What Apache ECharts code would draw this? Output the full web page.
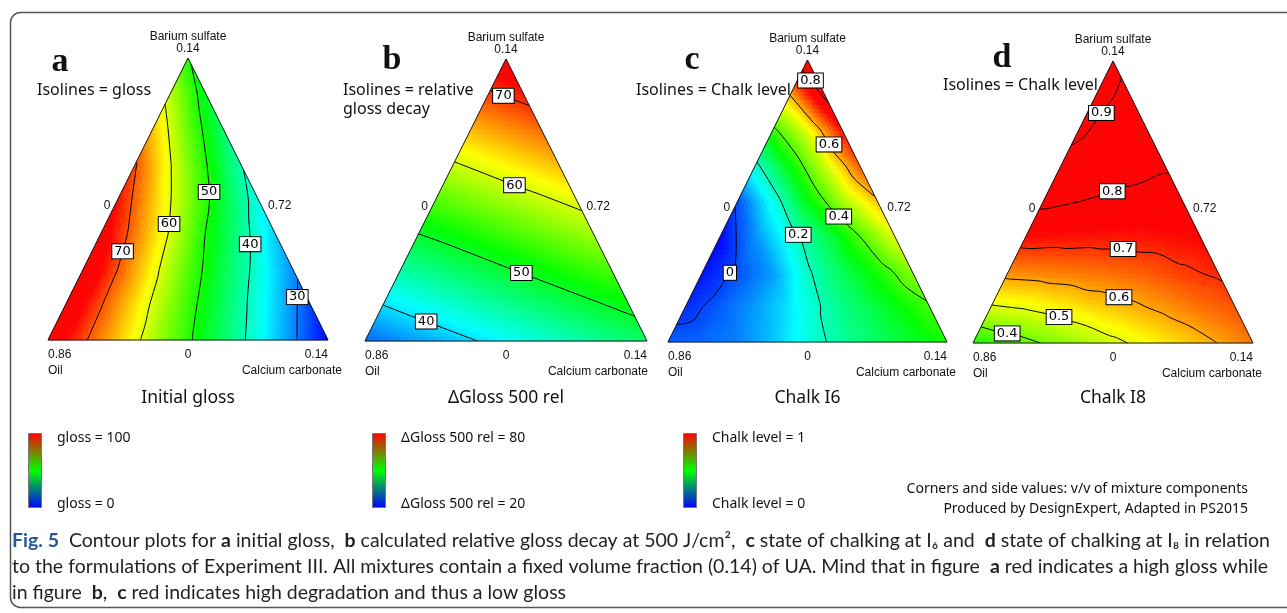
<!DOCTYPE html>
<html><head><meta charset="utf-8">
<style>html,body{margin:0;padding:0;background:#fff;}#chart{width:1287px;height:613px;}</style>
<script src="https://cdn.jsdelivr.net/npm/echarts@6/dist/echarts.min.js"></script>
</head><body><div id="chart"></div>
<script>
// ================= DATA =================
// Values on a triangular lattice: row 0 = base (Oil corner -> Calcium carbonate corner),
// last row = apex (Barium sulfate). 8 divisions per side.
const panelTitles = ['Initial gloss', 'ΔGloss 500 rel', 'Chalk I6', 'Chalk I8'];
const panelLetters = ['a', 'b', 'c', 'd'];
const isolineTexts = [['Isolines = gloss'], ['Isolines = relative', 'gloss decay'], ['Isolines = Chalk level'], ['Isolines = Chalk level']];
const apexLabels = ['Barium sulfate', '0.14'];
const leftCornerLabels = ['0.86', 'Oil'];
const rightCornerLabels = ['0.14', 'Calcium carbonate'];
const sideLabels = ['0', '0.72', '0'];   // left side, right side, base

const glossValues = [
  [77.0, 70.8, 64.3, 57.6, 50.8, 44.2, 37.6, 30.8, 24.0],
  [77.7, 70.4, 63.0, 55.6, 48.2, 41.3, 34.4, 27.3],
  [78.4, 69.9, 61.5, 53.1, 45.5, 38.3, 31.0],
  [76.5, 68.0, 59.4, 49.9, 42.2, 34.0],
  [73.5, 64.7, 55.6, 46.5, 37.5],
  [70.3, 60.2, 50.4, 40.5],
  [64.5, 54.0, 44.0],
  [58.0, 47.5],
  [50.5]
];
const glossDecayValues = [
  [35.0, 36.6, 38.1, 39.7, 41.3, 42.9, 44.5, 46.1, 47.6],
  [39.9, 41.5, 43.1, 44.7, 46.2, 47.8, 49.4, 51.0],
  [44.8, 46.4, 48.0, 49.6, 51.2, 52.8, 54.3],
  [49.8, 51.3, 52.9, 54.5, 56.1, 57.7],
  [54.7, 56.3, 57.9, 59.4, 61.0],
  [59.6, 61.2, 62.8, 64.4],
  [64.6, 66.1, 67.7],
  [69.5, 71.1],
  [74.4]
];
const chalkI6Values = [
  [0.02, 0.03, 0.05, 0.10, 0.17, 0.225, 0.27, 0.315, 0.36],
  [-0.02, 0.02, 0.07, 0.13, 0.21, 0.27, 0.33, 0.39],
  [-0.04, 0.01, 0.07, 0.19, 0.28, 0.36, 0.45],
  [-0.05, 0.06, 0.17, 0.28, 0.40, 0.52],
  [0.01, 0.16, 0.33, 0.47, 0.59],
  [0.18, 0.34, 0.50, 0.67],
  [0.38, 0.52, 0.73],
  [0.60, 0.82],
  [0.88]
];
const chalkI8Values = [
  [0.324, 0.364, 0.403, 0.443, 0.484, 0.523, 0.562, 0.601, 0.64],
  [0.49, 0.505, 0.53, 0.56, 0.585, 0.615, 0.645, 0.67],
  [0.622, 0.63, 0.64, 0.65, 0.665, 0.69, 0.71],
  [0.733, 0.728, 0.725, 0.725, 0.73, 0.74],
  [0.817, 0.80, 0.785, 0.775, 0.772],
  [0.877, 0.843, 0.823, 0.806],
  [0.915, 0.865, 0.842],
  [0.925, 0.878],
  [0.92]
];
const glossLevels = [30, 40, 50, 60, 70];
const glossDecayLevels = [40, 50, 60, 70];
const chalkI6Levels = [0, 0.2, 0.4, 0.6, 0.8];
const chalkI8Levels = [0.4, 0.5, 0.6, 0.7, 0.8, 0.9];

const legendTexts = [['gloss = 100', 'gloss = 0'], ['ΔGloss 500 rel = 80', 'ΔGloss 500 rel = 20'], ['Chalk level = 1', 'Chalk level = 0']];
const noteTexts = ['Corners and side values: v/v of mixture components', 'Produced by DesignExpert, Adapted in PS2015'];
const captionLines = [
  '{f|Fig. 5}  Contour plots for {b|a} initial gloss,  {b|b} calculated relative gloss decay at 500 J/cm²,  {b|c} state of chalking at I₆ and  {b|d} state of chalking at I₈ in relation',
  'to the formulations of Experiment III. All mixtures contain a fixed volume fraction (0.14) of UA. Mind that in figure  {b|a} red indicates a high gloss while',
  'in figure  {b|b},  {b|c} red indicates high degradation and thus a low gloss'
];

// ================= LAYOUT / STYLE =================
const fields = [glossValues, glossDecayValues, chalkI6Values, chalkI8Values];
const levels = [glossLevels, glossDecayLevels, chalkI6Levels, chalkI8Levels];
const layout = {
  boxes: [
    {left: 48, top: 58, width: 280, height: 282},
    {left: 365, top: 59, width: 282, height: 282},
    {left: 668, top: 60, width: 279, height: 282},
    {left: 973, top: 61, width: 280, height: 282}
  ],
  colorRanges: [[24, 74], [31, 72], [-0.05, 0.74], [-0.12, 0.74]],
  letterPos: [[60, 62], [392, 60], [692, 60], [1002, 58]],
  isoPos: [[37, 90], [343, 90], [636, 90], [943, 85]],
  calciumOffset: [14, 1, 9, 9],
  labelHints: [
    [[0.893, 0.152], [0.725, 0.34], [0.579, 0.525], [0.439, 0.411], [0.275, 0.312]],
    [[0.227, 0.096], [0.564, 0.266], [0.539, 0.578], [0.5, 0.894]],
    [[0.208, 0.255], [0.47, 0.383], [0.627, 0.461], [0.591, 0.709], [0.527, 0.94]],
    [[0.125, 0.06], [0.314, 0.11], [0.525, 0.174], [0.536, 0.33], [0.5, 0.532], [0.464, 0.812]]
  ],
  legendX: [28, 372, 683],
  titleY: 398
};
const SUB = 8;
const stops = [[0, 0, 255], [0, 255, 255], [0, 255, 0], [255, 255, 0], [255, 0, 0]];
function cmap(v, r) {
  let t = (v - r[0]) / (r[1] - r[0]);
  t = Math.max(0, Math.min(1, t));
  const s = t * 4, i = Math.min(3, Math.floor(s)), f = s - i;
  const a = stops[i], b = stops[i + 1];
  return 'rgb(' + Math.round(a[0] + (b[0] - a[0]) * f) + ',' + Math.round(a[1] + (b[1] - a[1]) * f) + ',' + Math.round(a[2] + (b[2] - a[2]) * f) + ')';
}

// ================= BUILD LATTICE =================
function buildMesh(rows) {
  const N = rows.length - 1;
  const nodes = [], idx = [];
  rows.forEach((row, r) => {
    idx[r] = [];
    row.forEach((v, i) => { idx[r][i] = nodes.length; nodes.push({x: (i + r / 2) / N, y: r / N, v: v}); });
  });
  const tris = [];
  for (let r = 0; r < N; r++) {
    for (let i = 0; i < N - r; i++) {
      tris.push([idx[r][i], idx[r][i + 1], idx[r + 1][i]]);
      if (i < N - r - 1) tris.push([idx[r][i + 1], idx[r + 1][i + 1], idx[r + 1][i]]);
    }
  }
  return {nodes, tris};
}
function contourLines(mesh, level) {
  const {nodes, tris} = mesh;
  const segs = [], pointOf = {};
  tris.forEach(t => {
    const cross = [];
    [[t[0], t[1]], [t[1], t[2]], [t[2], t[0]]].forEach(([a, b]) => {
      let va = nodes[a].v - level, vb = nodes[b].v - level;
      if (va === 0) va = 1e-9; if (vb === 0) vb = 1e-9;
      if ((va > 0) !== (vb > 0)) {
        const lo = Math.min(a, b), hi = Math.max(a, b);
        const key = lo + '_' + hi;
        const wl = nodes[lo].v - level || 1e-9, wh = nodes[hi].v - level || 1e-9;
        const f = wl / (wl - wh);
        pointOf[key] = [nodes[lo].x + f * (nodes[hi].x - nodes[lo].x), nodes[lo].y + f * (nodes[hi].y - nodes[lo].y)];
        cross.push(key);
      }
    });
    if (cross.length === 2) segs.push(cross);
  });
  const adj = {};
  segs.forEach((s, i) => { (adj[s[0]] = adj[s[0]] || []).push(i); (adj[s[1]] = adj[s[1]] || []).push(i); });
  const used = segs.map(() => false);
  const walk = start => {
    const keys = [start]; let cur = start;
    while (true) {
      const nx = (adj[cur] || []).find(i => !used[i]);
      if (nx === undefined) break;
      used[nx] = true;
      const s = segs[nx]; cur = s[0] === cur ? s[1] : s[0]; keys.push(cur);
    }
    return keys;
  };
  const lines = [];
  Object.keys(adj).forEach(k => { if (adj[k].length === 1 && adj[k].some(i => !used[i])) lines.push(walk(k)); });
  segs.forEach((s, i) => { if (!used[i]) lines.push(walk(s[0])); });
  return lines.map(keys => keys.map(k => pointOf[k]));
}
function nearestOn(lines, h) {
  let best = null, bd = Infinity;
  lines.forEach(pts => {
    for (let i = 0; i < pts.length - 1; i++) {
      const a = pts[i], b = pts[i + 1];
      const dx = b[0] - a[0], dy = b[1] - a[1];
      const L = dx * dx + dy * dy || 1e-12;
      let t = ((h[0] - a[0]) * dx + (h[1] - a[1]) * dy) / L; t = Math.max(0, Math.min(1, t));
      const p = [a[0] + t * dx, a[1] + t * dy];
      const d = (p[0] - h[0]) ** 2 + (p[1] - h[1]) ** 2;
      if (d < bd) { bd = d; best = p; }
    }
  });
  return best;
}

const meshes = fields.map(buildMesh);
const contourSets = meshes.map((m, p) => levels[p].map(L => contourLines(m, L)));

// ================= SERIES =================
const grids = [], xAxes = [], yAxes = [], series = [];
layout.boxes.forEach((b, p) => {
  grids.push({left: b.left, top: b.top, width: b.width, height: b.height, show: false});
  xAxes.push({gridIndex: p, type: 'value', min: 0, max: 1, show: false});
  yAxes.push({gridIndex: p, type: 'value', min: 0, max: 1, show: false});
  const mesh = meshes[p], range = layout.colorRanges[p];
  // filled field
  series.push({
    type: 'custom', xAxisIndex: p, yAxisIndex: p, z: 2, silent: true, animation: false, progressive: 0,
    data: mesh.tris.map((t, i) => [(mesh.nodes[t[0]].x + mesh.nodes[t[1]].x + mesh.nodes[t[2]].x) / 3, (mesh.nodes[t[0]].y + mesh.nodes[t[1]].y + mesh.nodes[t[2]].y) / 3, i]),
    renderItem: function (params, api) {
      const t = mesh.tris[params.dataIndex];
      const P = t.map(k => api.coord([mesh.nodes[k].x, mesh.nodes[k].y]));
      const V = t.map(k => mesh.nodes[k].v);
      const children = [];
      const at = (i, j) => {
        const u = i / SUB, w = j / SUB, o = 1 - u - w;
        return {pt: [o * P[0][0] + u * P[1][0] + w * P[2][0], o * P[0][1] + u * P[1][1] + w * P[2][1]], v: o * V[0] + u * V[1] + w * V[2]};
      };
      const add = (a, b, c) => {
        const col = cmap((a.v + b.v + c.v) / 3, range);
        children.push({type: 'polygon', shape: {points: [a.pt, b.pt, c.pt]}, style: {fill: col, stroke: col, lineWidth: 0.7}});
      };
      for (let i = 0; i < SUB; i++) for (let j = 0; j < SUB - i; j++) {
        add(at(i, j), at(i + 1, j), at(i, j + 1));
        if (i + j < SUB - 1) add(at(i + 1, j), at(i + 1, j + 1), at(i, j + 1));
      }
      return {type: 'group', children: children};
    }
  });
  // isolines
  const lineItems = [];
  contourSets[p].forEach((lines, li) => lines.forEach(pts => lineItems.push({pts: pts, li: li})));
  series.push({
    type: 'custom', xAxisIndex: p, yAxisIndex: p, z: 3, silent: true, animation: false,
    data: lineItems.map((it, i) => [it.pts[0][0], it.pts[0][1], i]),
    renderItem: function (params, api) {
      const it = lineItems[params.dataIndex];
      return {type: 'polyline', shape: {points: it.pts.map(q => api.coord(q)), smooth: 0.4}, style: {stroke: '#000', lineWidth: 1, fill: null}};
    }
  });
  // outline
  series.push({
    type: 'custom', xAxisIndex: p, yAxisIndex: p, z: 4, silent: true, animation: false,
    data: [[0.5, 0.33]],
    renderItem: function (params, api) {
      return {type: 'polygon', shape: {points: [api.coord([0, 0]), api.coord([1, 0]), api.coord([0.5, 1])]}, style: {fill: null, stroke: '#1a1a1a', lineWidth: 1}};
    }
  });
  // isoline labels
  const labelItems = levels[p].map((L, li) => ({text: String(L), pos: nearestOn(contourSets[p][li], layout.labelHints[p][li])})).filter(d => d.pos);
  series.push({
    type: 'custom', xAxisIndex: p, yAxisIndex: p, z: 5, silent: true, animation: false,
    data: labelItems.map((d, i) => [d.pos[0], d.pos[1], i]),
    renderItem: function (params, api) {
      const d = labelItems[params.dataIndex];
      const c = api.coord(d.pos);
      return {type: 'text', x: c[0], y: c[1], style: {text: d.text, fill: '#000', fontSize: 13, fontFamily: 'DejaVu Sans', align: 'center', verticalAlign: 'middle', textAlign: 'center', textVerticalAlign: 'middle', backgroundColor: '#fff', borderColor: '#000', borderWidth: 1, padding: [1, 2, 0, 2]}};
    }
  });
});

// ================= GRAPHIC TEXTS =================
const g = [];
const txt = (x, y, text, font, align, extra) => g.push(Object.assign({type: 'text', x: x, y: y, silent: true, style: {text: text, font: font, fill: '#111', align: align || 'left', textAlign: align || 'left', verticalAlign: 'middle', textVerticalAlign: 'middle'}}, extra || {}));
const small = '12px "Liberation Sans", Arial, sans-serif';
layout.boxes.forEach((b, p) => {
  const cx = b.left + b.width / 2, base = b.top + b.height;
  txt(cx, b.top - 21, apexLabels[0], small, 'center');
  txt(cx, b.top - 9, apexLabels[1], small, 'center');
  txt(b.left + b.width / 4 - 11, b.top + b.height / 2 + 7, sideLabels[0], small, 'center');
  txt(b.left + b.width * 3 / 4 + 10, b.top + b.height / 2 + 7, sideLabels[1], small, 'left');
  txt(cx, base + 15, sideLabels[2], small, 'center');
  txt(b.left, base + 15, leftCornerLabels[0], small, 'left');
  txt(b.left, base + 31, leftCornerLabels[1], small, 'left');
  txt(b.left + b.width, base + 15, rightCornerLabels[0], small, 'right');
  txt(b.left + b.width + layout.calciumOffset[p], base + 31, rightCornerLabels[1], small, 'right');
  txt(cx, layout.titleY, panelTitles[p], '17.5px "Noto Sans", sans-serif', 'center');
  txt(layout.letterPos[p][0], layout.letterPos[p][1], panelLetters[p], 'bold 34px "Liberation Serif", serif', 'center', {});
  isolineTexts[p].forEach((s, k) => txt(layout.isoPos[p][0], layout.isoPos[p][1] + k * 19, s, '16px "Noto Sans", sans-serif', 'left'));
});
legendTexts.forEach((pair, k) => {
  const x = layout.legendX[k];
  g.push({type: 'rect', silent: true, shape: {x: x + 0.5, y: 433.5, width: 13, height: 74},
    style: {fill: new echarts.graphic.LinearGradient(0, 0, 0, 1, [{offset: 0, color: '#ff0000'}, {offset: 0.5, color: '#00ff00'}, {offset: 1, color: '#0000ff'}]), stroke: '#777', lineWidth: 1}});
  txt(x + 29, 438, pair[0], '14px "Noto Sans", sans-serif', 'left');
  txt(x + 29, 504, pair[1], '14px "Noto Sans", sans-serif', 'left');
});
txt(1248, 489, noteTexts[0], '14px "Noto Sans", sans-serif', 'right');
txt(1248, 509, noteTexts[1], '14px "Noto Sans", sans-serif', 'right');

// caption: fit first line to its width in the reference
const capFamily = 'Lato, "Open Sans", sans-serif';
const mctx = document.createElement('canvas').getContext('2d');
mctx.font = '17px ' + capFamily;
const plain1 = captionLines[0].replace(/\{[a-z]\|([^}]*)\}/g, '$1');
const capSize = Math.min(19.5, Math.max(14, 17 * 1302 / mctx.measureText(plain1).width));
captionLines.forEach((s, k) => {
  g.push({type: 'text', x: 12, y: 541 + k * 26, silent: true, style: {
    text: s, fontFamily: capFamily, fontSize: capSize, fill: '#231f20', align: 'left', textAlign: 'left', verticalAlign: 'middle', textVerticalAlign: 'middle',
    rich: {
      b: {fontFamily: capFamily, fontSize: capSize, fontWeight: 'bold', fill: '#231f20'},
      f: {fontFamily: capFamily, fontSize: capSize, fontWeight: 'bold', fill: '#24599b'}
    }}});
});
// frame
g.push({type: 'rect', silent: true, z: -1, shape: {x: 10.5, y: 12.5, width: 1300, height: 595, r: 10}, style: {fill: null, stroke: '#555', lineWidth: 1.5}});

const chart = echarts.init(document.getElementById('chart'), null, {renderer: 'canvas'});
chart.setOption({
  animation: false,
  backgroundColor: '#fff',
  grid: grids, xAxis: xAxes, yAxis: yAxes,
  series: series,
  graphic: {elements: g}
});
</script></body></html>
